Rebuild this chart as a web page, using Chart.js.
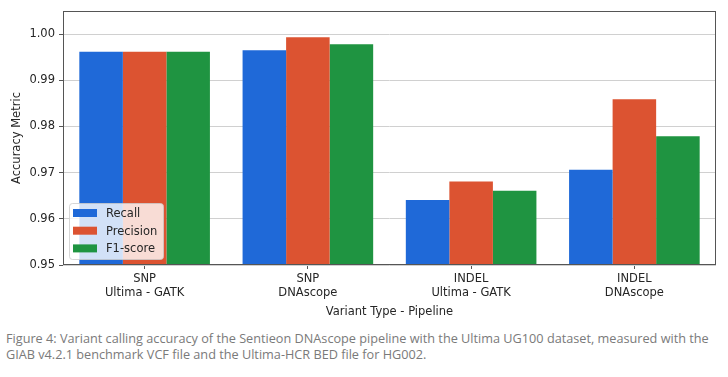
<!DOCTYPE html>
<html>
<head>
<meta charset="utf-8">
<script src="https://cdn.jsdelivr.net/npm/chart.js@4"></script>
<style>
  body { margin: 0; background: #fff; }
  #wrap { position: relative; width: 728px; height: 322px; }
  #cap { font-family: 'Open Sans', sans-serif; font-size: 12.7px; line-height: 16px; color: #7a7a7a; margin: 8px 0 0 6px; width: 722px; white-space: nowrap; }
</style>
</head>
<body>
<div id="wrap"><canvas id="chart"></canvas></div>
<div id="cap">Figure 4: Variant calling accuracy of the Sentieon DNAscope pipeline with the Ultima UG100 dataset, measured with the<br>GIAB v4.2.1 benchmark VCF file and the Ultima-HCR BED file for HG002.</div>
<script>
// categories (two-line tick labels)
const categories = [
    ['SNP', 'Ultima - GATK'],
    ['SNP', 'DNAscope'],
    ['INDEL', 'Ultima - GATK'],
    ['INDEL', 'DNAscope']
];
const recall = [0.9962, 0.9965, 0.9641, 0.9706];
const precision = [0.9962, 0.9993, 0.9681, 0.9859];
const f1score = [0.9962, 0.9978, 0.9661, 0.9779];
const yTicks = [0.95, 0.96, 0.97, 0.98, 0.99, 1.00];

const colors = ['#1f69d8', '#dc5331', '#1f9441'];
const tickFont = { family: 'DejaVu Sans', size: 11.5 };
const textColor = '#262626';

// Draws the axes frame and the legend inside the plot (lower left)
const framePlugin = {
    id: 'frame',
    afterDatasetsDraw(chart) {
        const ctx = chart.ctx;
        const a = chart.chartArea;
        ctx.save();
        ctx.strokeStyle = '#555';
        ctx.lineWidth = 1;
        ctx.strokeRect(a.left + 0.5, a.top + 0.5, a.right - a.left - 1, a.bottom - a.top - 1);

        // legend box
        let bx = a.left + 6, by = a.bottom - 62, bw = 94, bh = 56;
        ctx.fillStyle = 'rgba(255,255,255,0.8)';
        ctx.strokeStyle = 'rgba(204,204,204,0.8)';
        ctx.beginPath();
        ctx.roundRect(bx + 0.5, by + 0.5, bw, bh, 3);
        ctx.fill();
        ctx.stroke();
        ctx.font = '11.5px "DejaVu Sans"';
        ctx.textBaseline = 'middle';
        chart.data.datasets.forEach((ds, i) => {
            let cy = by + 10 + i * 17.7;
            ctx.fillStyle = ds.backgroundColor;
            ctx.fillRect(bx + 4, cy - 4, 24, 8);
            ctx.fillStyle = textColor;
            ctx.fillText(ds.label, bx + 37, cy + 1);
        });
        ctx.restore();
    }
};

new Chart(document.getElementById('chart'), {
    type: 'bar',
    data: {
        labels: categories,
        datasets: [
            { label: 'Recall', data: recall, backgroundColor: colors[0] },
            { label: 'Precision', data: precision, backgroundColor: colors[1] },
            { label: 'F1-score', data: f1score, backgroundColor: colors[2] }
        ]
    },
    options: {
        responsive: true,
        maintainAspectRatio: false,
        animation: false,
        layout: { padding: { top: 11, right: 12, left: 0, bottom: 0 } },
        datasets: { bar: { categoryPercentage: 0.8, barPercentage: 1.0 } },
        plugins: {
            legend: { display: false },
            tooltip: { enabled: false }
        },
        scales: {
            x: {
                grid: { offset: false, drawOnChartArea: false, tickColor: '#555', tickLength: 4 },
                border: { display: false },
                ticks: { font: tickFont, color: textColor, padding: 3, maxRotation: 0 },
                title: { display: true, text: 'Variant Type - Pipeline', font: tickFont, color: textColor, padding: { top: 2, bottom: 3 } },
                afterFit(scale) { scale.height = 57; }
            },
            y: {
                min: 0.95,
                max: 1.005,
                grid: { color: '#d0d0d0', tickColor: '#555', tickLength: 4 },
                border: { display: false },
                ticks: {
                    font: tickFont, color: textColor, padding: 4,
                    callback: v => v.toFixed(2)
                },
                afterBuildTicks(scale) { scale.ticks = yTicks.map(v => ({ value: v })); },
                title: { display: true, text: 'Accuracy Metric', font: tickFont, color: textColor, padding: { top: 10, bottom: 0 } },
                afterFit(scale) { scale.width = 63; }
            }
        }
    },
    plugins: [framePlugin]
});
</script>
</body>
</html>
